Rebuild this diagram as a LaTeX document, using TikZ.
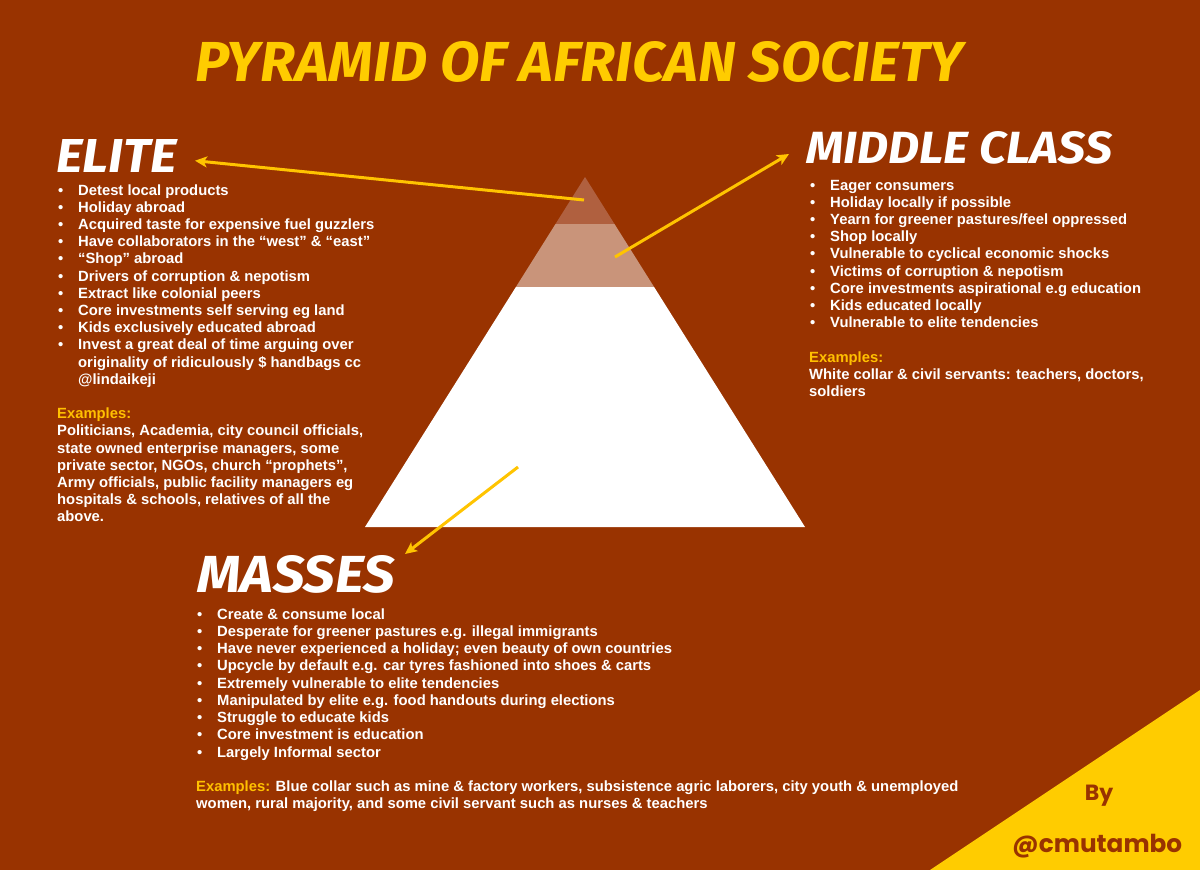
\documentclass[tikz,border=0pt]{standalone}
\usepackage{fontspec}
\setmainfont{Liberation Sans}
\newfontfamily\headfont{Fira Sans}
\newfontfamily\sigfont{Poppins}
\usetikzlibrary{arrows.meta}
\definecolor{bgbrown}{HTML}{993300}
\definecolor{titleyellow}{HTML}{FFCC00}
\definecolor{exyellow}{HTML}{FFC000}
\definecolor{arrowyellow}{HTML}{FFC400}
\definecolor{tiertop}{RGB}{176,96,63}
\definecolor{tiermid}{RGB}{201,148,122}
\tikzset{
  txt/.style={anchor=base west, inner sep=0pt, text=white,
    font=\fontsize{14.8}{17.2}\selectfont\bfseries},
  head/.style={anchor=south west, inner sep=0pt, text=white,
    font=\headfont\bfseries\itshape},
  pointer/.style={draw=arrowyellow, line width=3pt,
    -{Stealth[length=12pt,width=11pt,inset=3pt]}},
}
\newcommand{\bul}{\llap{•\hspace{15pt}}}
\begin{document}
\begin{tikzpicture}[x=1pt,y=-1pt]
\fill[bgbrown] (0,0) rectangle (1200,870);
\useasboundingbox (0,0) rectangle (1200,870);
% corner
\fill[titleyellow] (930,870) -- (1200,870) -- (1200,690) -- cycle;
% pyramid
\fill[tiertop] (585,177) -- (614.5,224) -- (555.5,224) -- cycle;
\fill[tiermid] (555.5,224) -- (614.5,224) -- (654.1,287) -- (515.9,287) -- cycle;
\fill[white] (515.9,287) -- (654.1,287) -- (805,527) -- (365,527) -- cycle;
% title
\node[anchor=south west, inner sep=0pt, text=titleyellow, font=\headfont\bfseries\itshape]
  (title) at (195,83) {\resizebox{768pt}{40pt}{PYRAMID OF AFRICAN SOCIETY}};
% headers
\node[head] (elite) at (56,173) {\resizebox{121pt}{33pt}{ELITE}};
\node[head] (middle) at (806,164) {\resizebox{306pt}{32pt}{MIDDLE CLASS}};
\node[head] (masses) at (197,594) {\resizebox{198pt}{37pt}{MASSES}};
% elite list
\foreach \t [count=\i] in {
  Detest local products,
  Holiday abroad,
  Acquired taste for expensive fuel guzzlers,
  Have collaborators in the “west” \& “east”,
  “Shop” abroad,
  Drivers of corruption \& nepotism,
  Extract like colonial peers,
  Core investments self serving eg land,
  Kids exclusively educated abroad,
  Invest a great deal of time arguing over}
  \node[txt] (e\i) at (78,{195+(\i-1)*17.2}) {\bul\t};
\node[txt] (e11) at (78,{195+10*17.2}) {originality of ridiculously \$ handbags cc};
\node[txt] (e12) at (78,{195+11*17.2}) {@lindaikeji};
\node[txt, text=exyellow] (eex) at (57,{195+13*17.2}) {Examples:};
\foreach \t [count=\i] in {
  {Politicians, Academia, city council officials,},
  {state owned enterprise managers, some},
  {private sector, NGOs, church “prophets”,},
  {Army officials, public facility managers eg},
  {hospitals \& schools, relatives of all the},
  above.}
  \node[txt] (ex\i) at (57,{195+(13+\i)*17.2}) {\t};
% middle list
\foreach \t [count=\i] in {
  Eager consumers,
  Holiday locally if possible,
  Yearn for greener pastures/feel oppressed,
  Shop locally,
  Vulnerable to cyclical economic shocks,
  Victims of corruption \& nepotism,
  Core investments aspirational e.g education,
  Kids educated locally,
  Vulnerable to elite tendencies}
  \node[txt] (m\i) at (830,{190+(\i-1)*17.2}) {\bul\t};
\node[txt, text=exyellow] (mex) at (809,{190+10*17.2}) {Examples:};
\node[txt] (mx1) at (809,{190+11*17.2}) {White collar \& civil servants: teachers, doctors,};
\node[txt] (mx2) at (809,{190+12*17.2}) {soldiers};
% masses list
\foreach \t [count=\i] in {
  Create \& consume local,
  Desperate for greener pastures e.g. illegal immigrants,
  Have never experienced a holiday; even beauty of own countries,
  Upcycle by default e.g. car tyres fashioned into shoes \& carts,
  Extremely vulnerable to elite tendencies,
  Manipulated by elite e.g. food handouts during elections,
  Struggle to educate kids,
  Core investment is education,
  Largely Informal sector}
  \node[txt] (s\i) at (217,{619+(\i-1)*17.25}) {\bul\t};
\node[txt] (sx1) at (196,{619+10*17.25}) {{\color{exyellow}Examples:} Blue collar such as mine \& factory workers, subsistence agric laborers, city youth \& unemployed};
\node[txt] (sx2) at (196,{619+11*17.25}) {women, rural majority, and some civil servant such as nurses \& teachers};
% signature
\node[anchor=base, inner sep=0pt, text=bgbrown, font=\sigfont\bfseries\fontsize{22}{22}\selectfont] (by) at (1099,800) {By};
\node[anchor=base west, inner sep=0pt, text=bgbrown] (sig) at (1012,852) {\resizebox{170pt}{!}{\sigfont\bfseries @cmutambo}};
% arrows
\coordinate (etail) at (584,200);
\coordinate (mtail) at (615,257);
\coordinate (stail) at (518,467);
\coordinate (etip) at (195,160.7);
\coordinate (mtip) at (789,154);
\coordinate (stip) at (405,554);
\draw[pointer] (etail) -- (etip);
\draw[pointer] (mtail) -- (mtip);
\draw[pointer] (stail) -- (stip);
\end{tikzpicture}
\end{document}
